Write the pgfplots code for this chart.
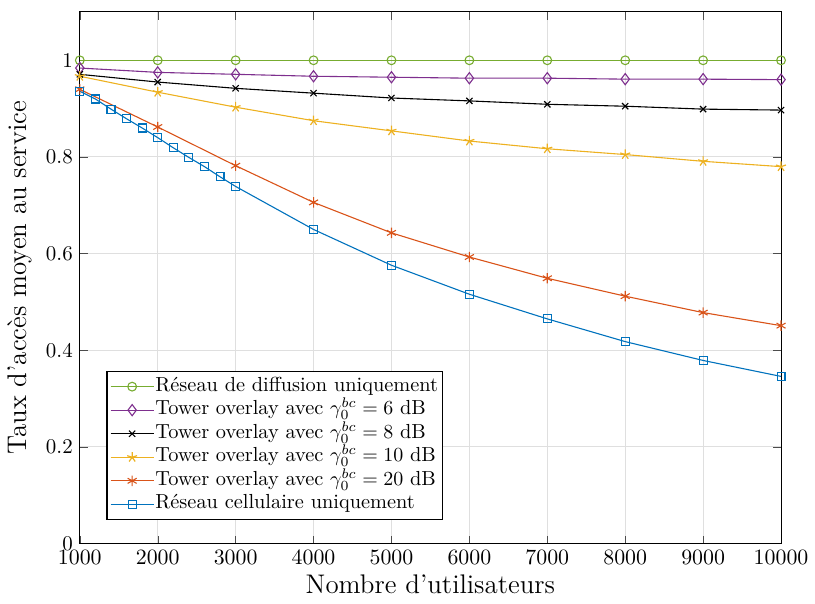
\documentclass[border=0pt]{standalone}
\usepackage{pgfplots}
\pgfplotsset{compat=1.18}
\definecolor{mgreen}{rgb}{0.466,0.674,0.188}
\definecolor{mpurple}{rgb}{0.494,0.184,0.556}
\definecolor{myellow}{rgb}{0.929,0.694,0.125}
\definecolor{morange}{rgb}{0.85,0.325,0.098}
\definecolor{mblue}{rgb}{0,0.447,0.741}
\begin{document}
\begin{tikzpicture}
\begin{axis}[
  name=ax,
  scale only axis,
  width=351.5pt, height=266.5pt,
  xmin=1000, xmax=10000, ymin=0, ymax=1.1,
  xtick={1000,2000,...,10000},
  ytick={0,0.2,0.4,0.6,0.8,1},
  yticklabels={0,0.2,0.4,0.6,0.8,1},
  scaled x ticks=false,
  xticklabel style={/pgf/number format/1000 sep={}},
  tick align=inside, tick pos=both,
  major tick length=4pt,
  grid=major,
  grid style={gray!25, line width=0.5pt},
  axis line style={line width=0.5pt},
  tick style={black!70},
  ticklabel style={font=\fontsize{10.5}{12}\selectfont},
  xlabel={Nombre d'utilisateurs},
  ylabel={Taux d'accès moyen au service},
  label style={font=\fontsize{13.5}{15}\selectfont},
  xlabel style={yshift=2pt},
  legend style={at={(0.038,0.045)}, anchor=south west, draw=black, fill=white,
    font=\fontsize{10.2}{11}\selectfont, inner sep=1.5pt, row sep=0pt, line width=0.6pt,
    nodes={inner sep=0.6pt, text height=7.6pt, text depth=3pt}},
  legend cell align=left,
  legend image code/.code={\draw[mark repeat=2,mark phase=2] plot coordinates {(0cm,0cm)(0.38cm,0cm)(0.76cm,0cm)};},
  every axis plot/.append style={line width=0.55pt},
]
\addplot[color=mgreen, mark=o, mark size=2.2pt] coordinates {
(1000,1)(2000,1)(3000,1)(4000,1)(5000,1)(6000,1)(7000,1)(8000,1)(9000,1)(10000,1)};
\addlegendentry{Réseau de diffusion uniquement}
\addplot[color=mpurple, mark=diamond, mark size=2.8pt] coordinates {
(1000,0.984)(2000,0.975)(3000,0.971)(4000,0.967)(5000,0.965)(6000,0.963)(7000,0.963)(8000,0.961)(9000,0.961)(10000,0.960)};
\addlegendentry{Tower overlay avec $\gamma_0^{bc}=6$ dB}
\addplot[color=black, mark=x, mark size=2.2pt] coordinates {
(1000,0.971)(2000,0.955)(3000,0.942)(4000,0.932)(5000,0.922)(6000,0.916)(7000,0.909)(8000,0.905)(9000,0.899)(10000,0.897)};
\addlegendentry{Tower overlay avec $\gamma_0^{bc}=8$ dB}
\addplot[color=myellow, mark=star, mark size=2.6pt, mark options={line width=0.6pt}] coordinates {
(1000,0.967)(2000,0.934)(3000,0.903)(4000,0.875)(5000,0.854)(6000,0.833)(7000,0.817)(8000,0.805)(9000,0.791)(10000,0.780)};
\addlegendentry{Tower overlay avec $\gamma_0^{bc}=10$ dB}
\addplot[color=morange, mark=asterisk, mark size=2.6pt] coordinates {
(1000,0.940)(2000,0.862)(3000,0.782)(4000,0.706)(5000,0.643)(6000,0.593)(7000,0.549)(8000,0.512)(9000,0.478)(10000,0.451)};
\addlegendentry{Tower overlay avec $\gamma_0^{bc}=20$ dB}
\addplot[color=mblue, mark=square, mark size=2pt] coordinates {
(1000,0.936)(1200,0.920)(1400,0.899)(1600,0.879)(1800,0.860)(2000,0.840)(2200,0.819)(2400,0.799)(2600,0.780)(2800,0.759)(3000,0.739)(4000,0.650)(5000,0.576)(6000,0.516)(7000,0.465)(8000,0.418)(9000,0.379)(10000,0.346)};
\addlegendentry{Réseau cellulaire uniquement}
\end{axis}
\path ([xshift=-40pt,yshift=-30pt]ax.south west) rectangle ([xshift=16pt,yshift=6pt]ax.north east);
\end{tikzpicture}
\end{document}
